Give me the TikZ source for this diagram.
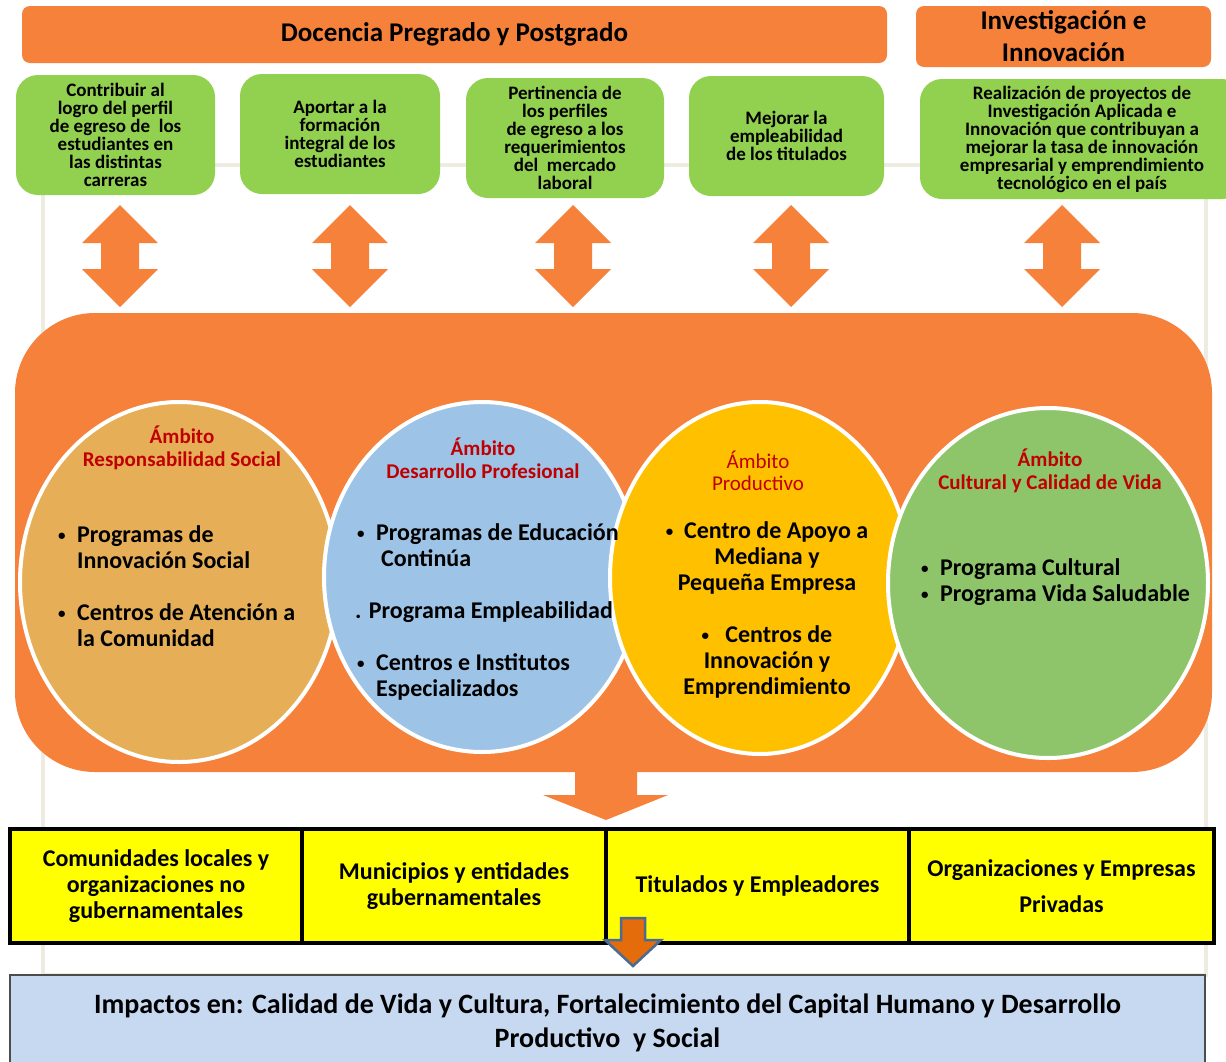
\documentclass[tikz,border=0pt]{standalone}
\usepackage{fontspec}
\setmainfont{Carlito}
\usetikzlibrary{shapes.geometric}

\definecolor{barorange}{HTML}{F5813A}
\definecolor{aimgreen}{HTML}{92D050}
\definecolor{socialtan}{HTML}{E6AF57}
\definecolor{profblue}{HTML}{9DC3E6}
\definecolor{prodgold}{HTML}{FFC000}
\definecolor{lifegreen}{HTML}{8FC56A}
\definecolor{ambred}{HTML}{C00000}
\definecolor{framegray}{HTML}{EEECE1}
\definecolor{impactblue}{HTML}{C6D9F1}
\definecolor{cellyellow}{HTML}{FFFF00}
\definecolor{smallorange}{HTML}{E46C0A}
\definecolor{smalledge}{HTML}{4A6B94}

\newcommand\smalldot{\raisebox{2pt}{\fontsize{15}{15}\selectfont\textbullet}}
\newcommand\bul{\makebox[19pt][l]{\smalldot}}

\tikzset{
  bar/.style={fill=barorange, rounded corners=8pt, inner sep=0pt, align=center,
    font=\bfseries\fontsize{27}{32}\selectfont},
  aim/.style={fill=aimgreen, rounded corners=22pt, inner sep=0pt, align=center,
    minimum height=120pt, font=\bfseries\fontsize{19}{18}\selectfont},
  ambit/.style={ellipse, draw=white, line width=4pt, inner sep=0pt},
  ambtitle/.style={text=ambred, align=center, inner sep=0pt,
    font=\bfseries\fontsize{21}{23}\selectfont},
  items/.style={align=left, inner sep=0pt, font=\bfseries\fontsize{24}{26}\selectfont},
  cell/.style={draw=black, line width=4pt, fill=cellyellow, minimum height=114pt,
    align=center, inner sep=0pt, font=\bfseries\fontsize{24}{26}\selectfont},
  pics/updown/.style={code={
    \fill[barorange] (0,-51) -- (38,-13) -- (19,-13) -- (19,13) -- (38,13) -- (0,51)
      -- (-38,13) -- (-19,13) -- (-19,-13) -- (-38,-13) -- cycle;}}
}

\begin{document}
\begin{tikzpicture}[x=1pt, y=-1pt]
    \useasboundingbox (0,0) rectangle (1226,1061);
    \draw[framegray, line width=4pt] (43,165) rectangle (1206,975);

    \node[bar, minimum width=865pt, minimum height=57pt] (docencia) at (454.5,34.5) {Docencia Pregrado y Postgrado};
    \node[bar, minimum width=295pt, minimum height=61pt] (investig) at (1063.5,36.5) {Investigación e\\Innovación};

    \node[aim, minimum width=199pt] (perfil)   at (115.5,135) {Contribuir al\\logro del perfil\\de egreso de\ \ los\\estudiantes en\\las distintas\\carreras};
    \node[aim, minimum width=200pt] (integral) at (340,134)   {Aportar a la\\formación\\integral de los\\estudiantes};
    \node[aim, minimum width=198pt] (mercado)  at (565,138)   {Pertinencia de\\los perfiles\\de egreso a los\\requerimientos\\del\ \ mercado\\laboral};
    \node[aim, minimum width=195pt] (titulo)   at (786.5,136) {Mejorar la\\empleabilidad\\de los titulados};
    \node[aim, minimum width=324pt] (proyecto) at (1082,139)  {Realización de proyectos de\\Investigación Aplicada e\\Innovación que contribuyan a\\mejorar la tasa de innovación\\empresarial y emprendimiento\\tecnológico en el país};

    \pic at (120,256)  {updown};
    \pic at (350,256)  {updown};
    \pic at (573,256)  {updown};
    \pic at (791,256)  {updown};
    \pic at (1062,256) {updown};

    \node[fill=barorange, rounded corners=80pt, minimum width=1197pt, minimum height=459pt] (core) at (613.5,542.5) {};

    \node[ambit, fill=socialtan, minimum width=318pt, minimum height=360pt] (social) at (179,582)  {};
    \node[ambit, fill=profblue,  minimum width=316pt, minimum height=350pt] (prof)   at (482,577)  {};
    \node[ambit, fill=prodgold,  minimum width=300pt, minimum height=352pt] (prod)   at (760,578)  {};
    \node[ambit, fill=lifegreen, minimum width=320pt, minimum height=350pt] (vida)   at (1048,583) {};

    \node[ambtitle] (socialt) at (182,448)  {Ámbito\\Responsabilidad Social};
    \node[ambtitle] (proft)   at (483,458)  {Ámbito\\Desarrollo Profesional};
    \node[ambtitle, font=\fontsize{21}{22}\selectfont] (prodt) at (758,471) {Ámbito\\Productivo};
    \node[ambtitle] (vidat)   at (1050,471) {Ámbito\\Cultural y Calidad de Vida};

    \node[items, anchor=base west] (sociali) at (58,646)  {\bul Programas de\\\hspace*{19pt}Innovación Social\\[26pt]\bul Centros de Atención a\\\hspace*{19pt}la Comunidad};
    \node[items, anchor=base west] (profi)   at (355,696) {\hspace*{2pt}\bul Programas de Educación\\\hspace*{26pt}Continúa\\[26pt]. Programa Empleabilidad\\[26pt]\hspace*{2pt}\bul Centros e Institutos\\\hspace*{21pt}Especializados};
    \node[items, align=center]     (prodi)   at (767,610) {\smalldot\ \ Centro de Apoyo a\\Mediana y\\Pequeña Empresa\\[26pt]\smalldot\ \ \ Centros de\\Innovación y\\Emprendimiento};
    \node[items, anchor=base west] (vidai)   at (921,601) {\bul Programa Cultural\\\bul Programa Vida Saludable};

    \fill[barorange] (575,770) -- (637,770) -- (637,795) -- (668,795) -- (606,820) -- (543,795) -- (575,795) -- cycle;

    \node[cell, minimum width=292pt] (comunidad) at (156,886)    {Comunidades locales y\\organizaciones no\\gubernamentales};
    \node[cell, minimum width=304pt] (municipio) at (454,886)    {Municipios y entidades\\gubernamentales};
    \node[cell, minimum width=303pt] (titulados) at (757.5,886)  {Titulados y Empleadores};
    \node[cell, minimum width=305pt, font=\bfseries\fontsize{24}{36}\selectfont] (empresas) at (1061.5,886) {Organizaciones y Empresas\\Privadas};

    \filldraw[fill=smallorange, draw=smalledge, line width=2.5pt, line join=miter] (621,918) -- (645,918) -- (645,940) -- (661,940) -- (633,966) -- (605,940) -- (621,940) -- cycle;

    \node[fill=impactblue, draw=black!70, line width=1.5pt, minimum width=1195pt, minimum height=96pt, align=center,
          font=\bfseries\fontsize{28}{34}\selectfont] (impacto) at (607.5,1023) {Impactos en: Calidad de Vida y Cultura, Fortalecimiento del Capital Humano y Desarrollo\\Productivo\ \ y Social};
\end{tikzpicture}
\end{document}
